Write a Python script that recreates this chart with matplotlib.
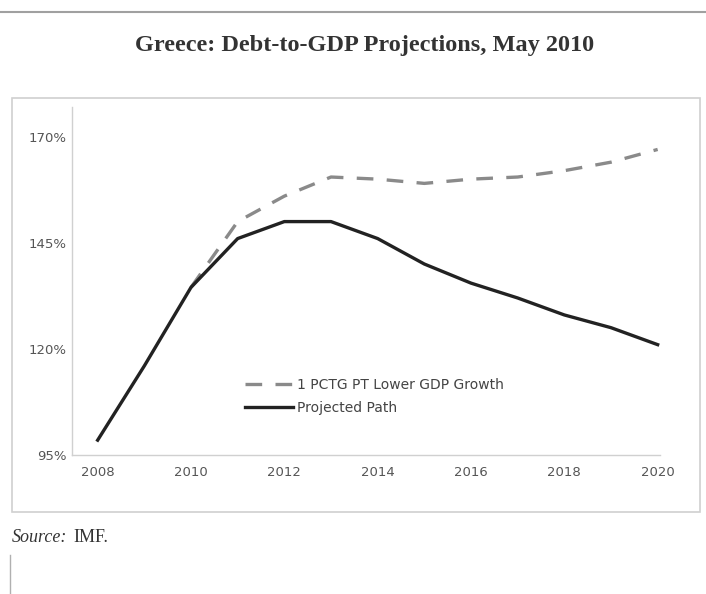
import matplotlib.pyplot as plt
from matplotlib.patches import Rectangle
from matplotlib.lines import Line2D

# values (percent of GDP)
years = list(range(2008, 2021))
projected = [98.5, 116, 134.5, 146, 150, 150, 146, 140, 135.5, 132, 128, 125, 121]
low_years = list(range(2010, 2021))
lower_growth = [134.5, 150, 156, 160.5, 160, 159, 160, 160.5, 162, 164, 167]

x_ticks = [2008, 2010, 2012, 2014, 2016, 2018, 2020]
y_ticks = [95, 120, 145, 170]
y_labels = ['95%', '120%', '145%', '170%']

W, H = 706, 594
fig = plt.figure(figsize=(W / 100, H / 100), dpi=100)

# rule at the top and the box round the chart
fig.add_artist(Line2D([0, 1], [1 - 12 / H, 1 - 12 / H], color='#a0a0a0', lw=1.5))
fig.add_artist(Rectangle((12 / W, 1 - 512 / H), (700 - 12) / W, (512 - 98) / H,
                         fill=False, edgecolor='#d0d0d0', lw=1.2))
fig.add_artist(Line2D([10 / W, 10 / W], [0, 1 - 555 / H], color='#b0b0b0', lw=1))

fig.text(365 / W, 1 - 46 / H, 'Greece: Debt-to-GDP Projections, May 2010',
         ha='center', va='center', family='Liberation Serif', fontsize=17.5,
         color='#333333', weight='bold')

fig.text(12 / W, 1 - 537 / H, 'Source:', ha='left', va='center',
         family='Liberation Serif', style='italic', fontsize=13, color='#333333')
fig.text(73 / W, 1 - 537 / H, 'IMF.', ha='left', va='center',
         family='Liberation Serif', fontsize=13, color='#333333')

ax = fig.add_axes([72 / W, 1 - 455 / H, (660 - 72) / W, (455 - 107) / H])
ax.plot(low_years, lower_growth, color='#8a8a8a', lw=2.4, ls=(0, (5, 4)),
        label='1 PCTG PT Lower GDP Growth')
ax.plot(years, projected, color='#222222', lw=2.4, label='Projected Path')

ax.set_xlim(2007.45, 2020.05)
ax.set_ylim(95, 177)
ax.set_xticks(x_ticks)
ax.set_yticks(y_ticks)
ax.set_yticklabels(y_labels)
ax.tick_params(length=0, labelsize=9.5, labelcolor='#555555')
ax.tick_params(axis='x', pad=8)
ax.tick_params(axis='y', pad=4)
for s in ['top', 'right']:
    ax.spines[s].set_visible(False)
for s in ['left', 'bottom']:
    ax.spines[s].set_color('#d0d0d0')
    ax.spines[s].set_linewidth(1)

ax.legend(loc='center left', bbox_to_anchor=((245 - 72) / 588, (455 - 396.5) / 348),
          frameon=False, fontsize=10, labelcolor='#444444', handlelength=3.45,
          handletextpad=0.3, labelspacing=0.65, borderpad=0, borderaxespad=0)

fig.savefig('out.png', dpi=100)
